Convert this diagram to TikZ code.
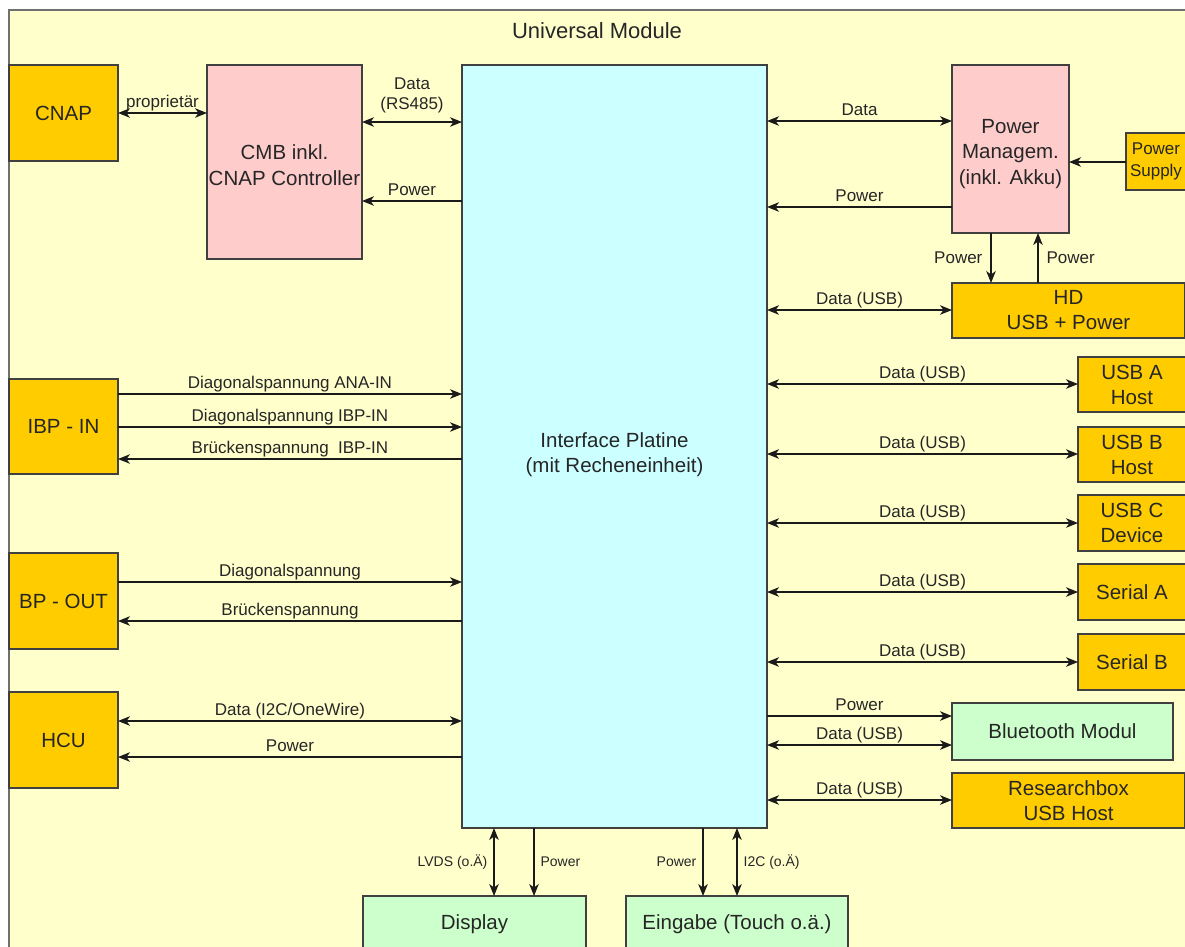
\documentclass[tikz,border=0pt]{standalone}
\usepackage{fontspec}
\setmainfont{Liberation Sans}
\usetikzlibrary{arrows.meta}
\definecolor{bgy}{HTML}{FFFFCC}
\definecolor{orng}{HTML}{FFCC00}
\definecolor{pnk}{HTML}{FFCCCC}
\definecolor{cyn}{HTML}{CCFFFF}
\definecolor{grn}{HTML}{CCFFCC}
\definecolor{bordc}{HTML}{404040}
\definecolor{framec}{HTML}{707070}
\definecolor{linec}{HTML}{1A1A1A}
\tikzset{
  box/.style={draw=bordc, line width=1.3pt, inner sep=0pt, outer sep=0pt,
    anchor=north west, align=center, text=black!85,
    font=\fontsize{20.5}{25}\selectfont},
  boxtext/.style={align=center, text=black!85, inner sep=0pt,
    font=\fontsize{20.5}{25.5}\selectfont},
  smallbox/.style={box, font=\fontsize{17}{22}\selectfont},
  conn/.style={draw=linec, line width=1.2pt},
  lbl/.style={font=\fontsize{17}{20}\selectfont, text=black!85, inner sep=1pt,
    text depth=3.5pt, align=center},
  blbl/.style={font=\fontsize{14}{16}\selectfont, text=black!85, inner sep=6pt},
  vlbl/.style={font=\fontsize{17}{20}\selectfont, text=black!85, inner sep=8pt},
  >={Stealth[length=12pt,width=9.5pt,inset=3.5pt]}
}
\begin{document}
\begin{tikzpicture}[x=1pt,y=-1pt]
\useasboundingbox (0,0) rectangle (1185,946);
\clip (0,0) rectangle (1185,946);
\fill[white] (0,0) rectangle (1185,946);
% frame
\node[draw=framec, fill=bgy, line width=1.3pt, inner sep=0pt, outer sep=0pt,
  anchor=north west, minimum width=1200pt, minimum height=960pt] (frame) at (9,10) {};
\node[font=\fontsize{22}{26}\selectfont, text=black!85] (title) at (597,31) {Universal Module};

% boxes
\node[box, fill=orng, minimum width=109pt, minimum height=96pt] (cnap) at (9,65) {CNAP};
\node[box, fill=pnk, minimum width=155pt, minimum height=194pt] (cmb) at (207,65) {};
\node[boxtext] (cmbtext) at ([yshift=-3pt]cmb.center) {CMB inkl.\\CNAP Controller};
\node[box, fill=cyn, minimum width=305pt, minimum height=763pt] (iface) at (462,65) {};
\node[boxtext] (ifacetext) at ([yshift=-8pt]iface.center) {Interface Platine\\(mit Recheneinheit)};
\node[box, fill=pnk, minimum width=117pt, minimum height=168pt] (pm) at (952,65) {};
\node[boxtext] (pmtext) at ([yshift=-5pt]pm.center) {Power\\Managem.\\(inkl. Akku)};
\node[smallbox, fill=orng, minimum width=60pt, minimum height=57pt] (ps) at (1126,133) {Power\\Supply};
\node[box, fill=orng, minimum width=233pt, minimum height=55pt] (hd) at (952,283) {HD\\USB + Power};
\node[box, fill=orng, minimum width=108pt, minimum height=55pt] (usba) at (1078,357) {USB A\\Host};
\node[box, fill=orng, minimum width=108pt, minimum height=55pt] (usbb) at (1078,427) {USB B\\Host};
\node[box, fill=orng, minimum width=108pt, minimum height=56pt] (usbc) at (1078,495) {USB C\\Device};
\node[box, fill=orng, minimum width=108pt, minimum height=56pt] (sera) at (1078,564) {Serial A};
\node[box, fill=orng, minimum width=108pt, minimum height=56pt] (serb) at (1078,634) {Serial B};
\node[box, fill=grn, minimum width=221pt, minimum height=57pt] (bt) at (952,703) {Bluetooth Modul};
\node[box, fill=orng, minimum width=233pt, minimum height=55pt] (rb) at (952,773) {Researchbox\\USB Host};
\node[box, fill=grn, minimum width=223pt, minimum height=56pt] (disp) at (363,896) {Display};
\node[box, fill=grn, minimum width=222pt, minimum height=56pt] (eing) at (626,896) {Eingabe (Touch o.\"a.)};
\node[box, fill=orng, minimum width=109pt, minimum height=95pt] (ibp) at (9,379) {IBP - IN};
\node[box, fill=orng, minimum width=109pt, minimum height=96pt] (bpo) at (9,553) {BP - OUT};
\node[box, fill=orng, minimum width=109pt, minimum height=96pt] (hcu) at (9,692) {HCU};

% top left connectors
\draw[conn,<->] (cnap.east |- 0,113) -- node[lbl,above] {propriet\"ar} (cmb.west |- 0,113);
\draw[conn,<->] (cmb.east |- 0,122) -- node[lbl,above=7pt] {Data\\(RS485)} (iface.west |- 0,122);
\draw[conn,->] (iface.west |- 0,201) -- node[lbl,above] {Power} (cmb.east |- 0,201);

% power management
\draw[conn,<->] (iface.east |- 0,121) -- node[lbl,above] {Data} (pm.west |- 0,121);
\draw[conn,->] (pm.west |- 0,207) -- node[lbl,above] {Power} (iface.east |- 0,207);
\draw[conn,->] (ps.west |- 0,162) -- (pm.east |- 0,162);
\draw[conn,->] (pm.south -| 991,0) -- node[vlbl,left] {Power} (hd.north -| 991,0);
\draw[conn,->] (hd.north -| 1038,0) -- node[vlbl,right] {Power} (pm.south -| 1038,0);
\draw[conn,<->] (iface.east |- 0,310) -- node[lbl,above] {Data (USB)} (hd.west |- 0,310);

% right USB connectors
\draw[conn,<->] (iface.east |- 0,384) -- node[lbl,above] {Data (USB)} (usba.west |- 0,384);
\draw[conn,<->] (iface.east |- 0,454) -- node[lbl,above] {Data (USB)} (usbb.west |- 0,454);
\draw[conn,<->] (iface.east |- 0,523) -- node[lbl,above] {Data (USB)} (usbc.west |- 0,523);
\draw[conn,<->] (iface.east |- 0,592) -- node[lbl,above] {Data (USB)} (sera.west |- 0,592);
\draw[conn,<->] (iface.east |- 0,662) -- node[lbl,above] {Data (USB)} (serb.west |- 0,662);
\draw[conn,->] (iface.east |- 0,716) -- node[lbl,above] {Power} (bt.west |- 0,716);
\draw[conn,<->] (iface.east |- 0,745) -- node[lbl,above] {Data (USB)} (bt.west |- 0,745);
\draw[conn,<->] (iface.east |- 0,800) -- node[lbl,above] {Data (USB)} (rb.west |- 0,800);

% left connectors
\draw[conn,->] (ibp.east |- 0,394) -- node[lbl,above] {Diagonalspannung ANA-IN} (iface.west |- 0,394);
\draw[conn,->] (ibp.east |- 0,427) -- node[lbl,above] {Diagonalspannung IBP-IN} (iface.west |- 0,427);
\draw[conn,->] (iface.west |- 0,459) -- node[lbl,above] {Br\"uckenspannung\ \ IBP-IN} (ibp.east |- 0,459);
\draw[conn,->] (bpo.east |- 0,582) -- node[lbl,above] {Diagonalspannung} (iface.west |- 0,582);
\draw[conn,->] (iface.west |- 0,621) -- node[lbl,above] {Br\"uckenspannung} (bpo.east |- 0,621);
\draw[conn,<->] (hcu.east |- 0,721) -- node[lbl,above] {Data (I2C/OneWire)} (iface.west |- 0,721);
\draw[conn,->] (iface.west |- 0,757) -- node[lbl,above] {Power} (hcu.east |- 0,757);

% bottom connectors
\draw[conn,<->] (iface.south -| 494,0) -- node[blbl,left] {LVDS (o.\"A)} (disp.north -| 494,0);
\draw[conn,->] (iface.south -| 534,0) -- node[blbl,right] {Power} (disp.north -| 534,0);
\draw[conn,->] (iface.south -| 703,0) -- node[blbl,left] {Power} (eing.north -| 703,0);
\draw[conn,<->] (iface.south -| 737,0) -- node[blbl,right] {I2C (o.\"A)} (eing.north -| 737,0);
\end{tikzpicture}
\end{document}
